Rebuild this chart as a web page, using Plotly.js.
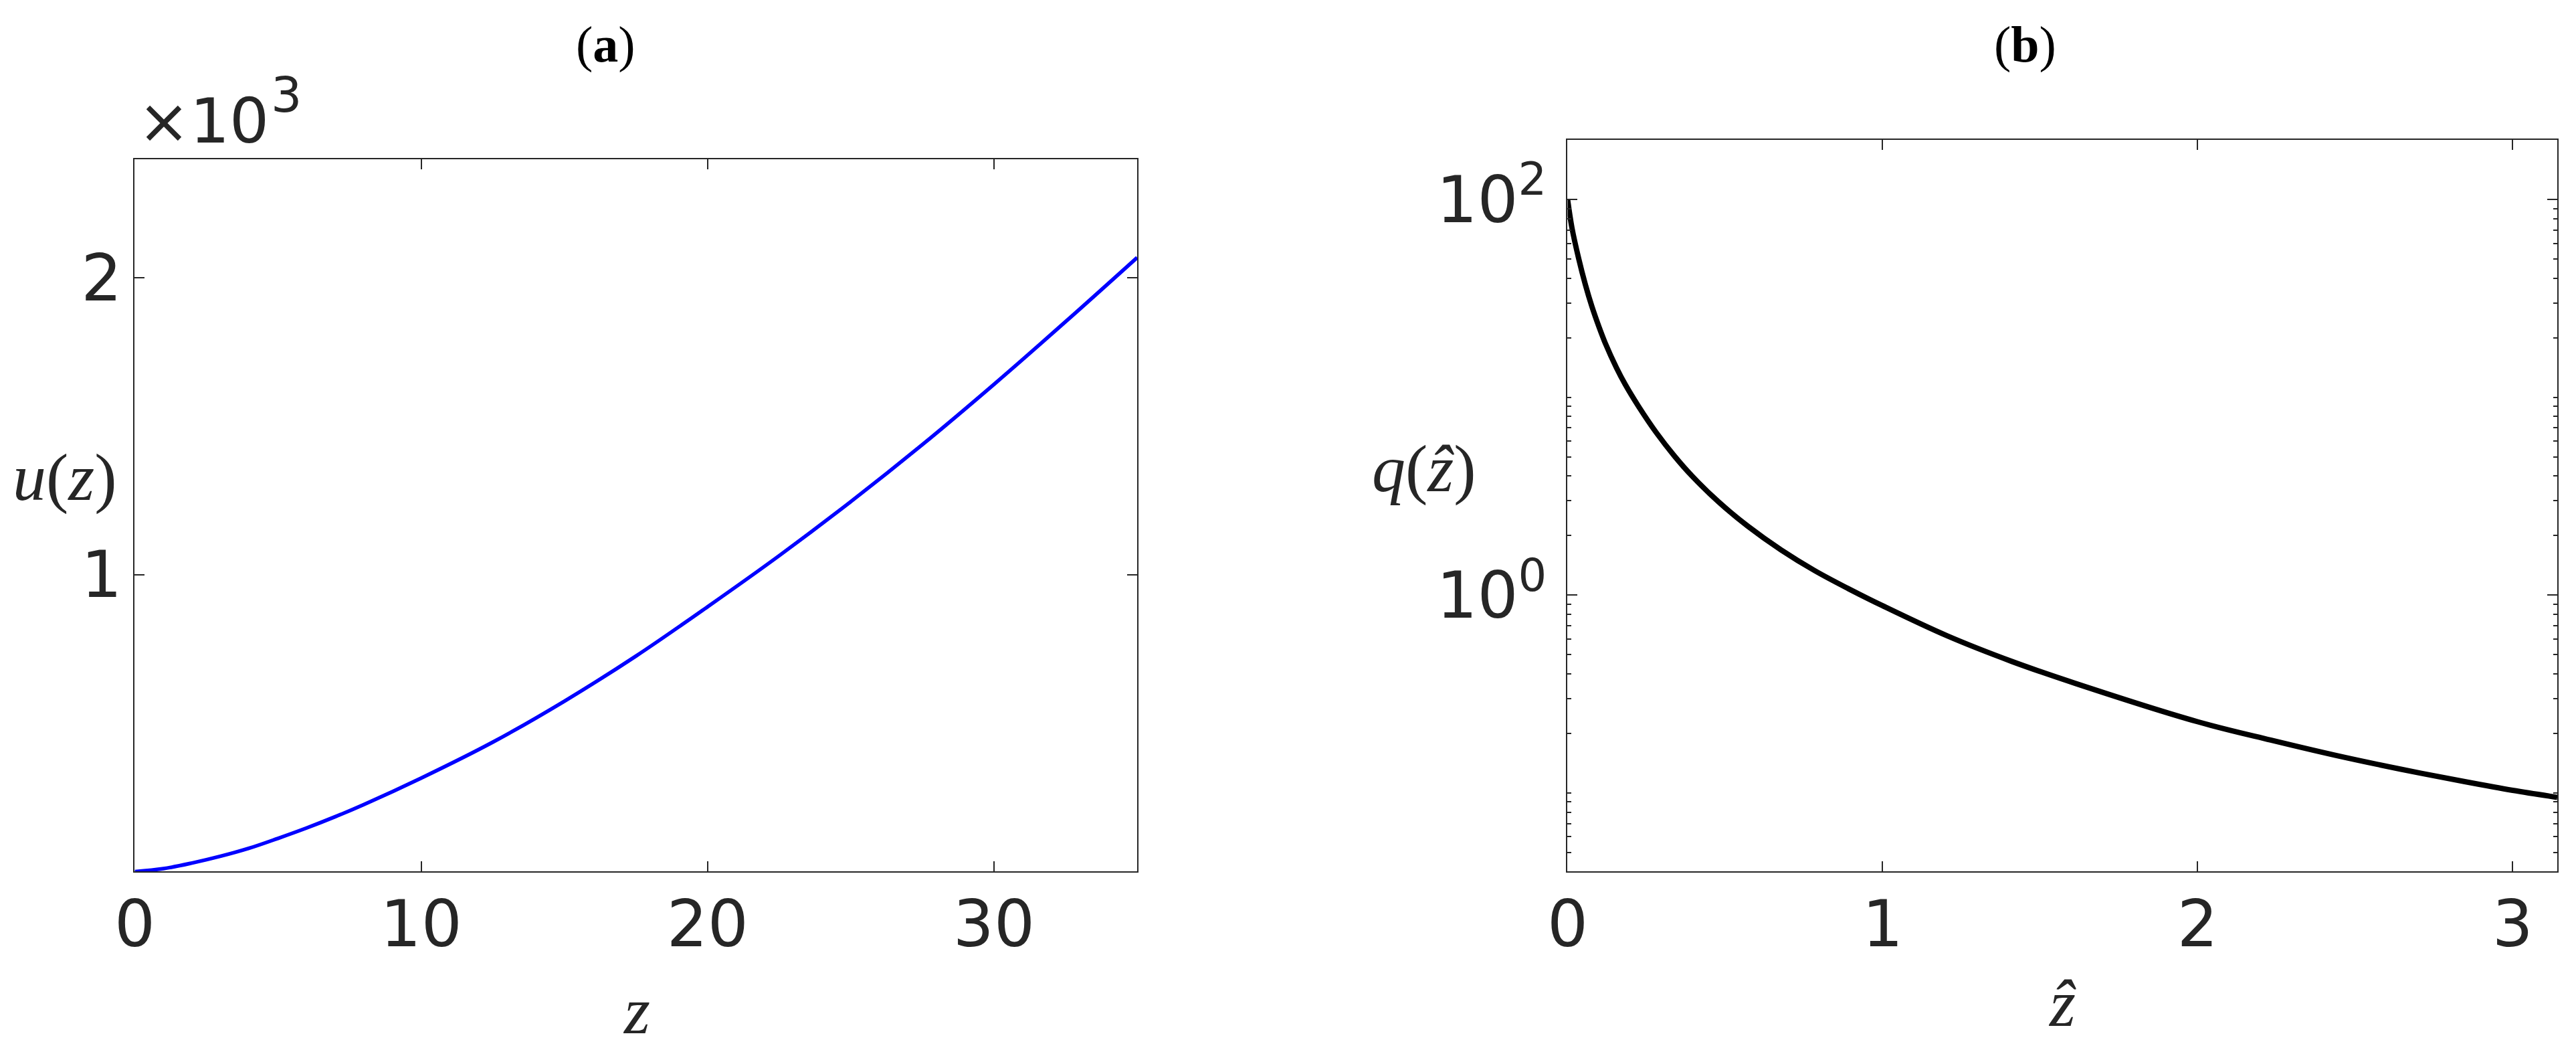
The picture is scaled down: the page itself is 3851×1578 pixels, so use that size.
<!DOCTYPE html>
<html>
<head>
<meta charset="utf-8">
<script src="https://cdn.plot.ly/plotly-3.0.1.min.js"></script>
<style>html,body{margin:0;padding:0;background:#fff;}</style>
</head>
<body>
<div id="chart" style="width:3851px;height:1578px;"></div>
<script>
// Panel (a): u(z)
const zA = [0, 1, 2, 3, 4, 5, 6, 7, 8, 10, 12.5, 15, 17.5, 20, 22.5, 25, 27.5, 30, 32.5, 35];
const uA = [0, 10, 29, 52, 79, 112, 147, 185, 226, 315, 436, 574, 726, 892, 1064, 1246, 1438, 1641, 1852, 2068];
// Panel (b): q(z-hat)
const zB = [0, 0.014, 0.035, 0.056, 0.077, 0.10, 0.12, 0.155, 0.183, 0.226, 0.282, 0.339, 0.395, 0.48, 0.572, 0.678, 0.784, 0.89, 1.0, 1.205, 1.41, 1.616, 2.0, 2.232, 2.437, 2.643, 2.848, 3.0, 3.1416];
const qB = [100, 71.6, 50.4, 37.3, 28.8, 22.6, 18.7, 14.1, 11.6, 8.95, 6.61, 5.05, 4.0, 2.95, 2.23, 1.69, 1.33, 1.08, 0.883, 0.622, 0.462, 0.356, 0.229, 0.185, 0.155, 0.132, 0.114, 0.103, 0.095];

const xTicksA = [0, 10, 20, 30];
const yTicksA = [1000, 2000];
const yTextA = ['1', '2'];
const xTicksB = [0, 1, 2, 3];
const yTicksB = [1, 100];
const yTextB = ['10<sup>0</sup>', '10<sup>2</sup>'];

const axCol = '#262626';
const tickFont = {family: 'DejaVu Sans', size: 96, color: axCol};
const base = {
  ticks: 'inside', ticklen: 15, tickwidth: 2, tickcolor: axCol,
  showline: true, linecolor: axCol, linewidth: 2, mirror: 'ticks',
  showgrid: false, zeroline: false, tickfont: tickFont, fixedrange: true
};

const traces = [
  {x: zA, y: uA, type: 'scatter', mode: 'lines', xaxis: 'x', yaxis: 'y',
   line: {color: '#0000ff', width: 5.5, shape: 'spline'}, hoverinfo: 'skip'},
  {x: zB, y: qB, type: 'scatter', mode: 'lines', xaxis: 'x2', yaxis: 'y2',
   line: {color: '#000000', width: 8, shape: 'spline'}, hoverinfo: 'skip'}
];

const serif = 'Liberation Serif';
const layout = {
  width: 3851, height: 1578,
  margin: {l: 0, r: 0, t: 0, b: 0},
  paper_bgcolor: '#fff', plot_bgcolor: '#fff',
  showlegend: false,
  xaxis: Object.assign({}, base, {domain: [0.05232, 0.44145], range: [0, 35], anchor: 'y',
    tickmode: 'array', tickvals: xTicksA, ticklabelstandoff: -6}),
  yaxis: Object.assign({}, base, {domain: [0.17459, 0.84949], range: [0, 2400], anchor: 'x',
    tickmode: 'array', tickvals: yTicksA, ticktext: yTextA, ticklabelstandoff: -2}),
  xaxis2: Object.assign({}, base, {domain: [0.60854, 0.99273], range: [0, Math.PI], anchor: 'y2',
    tickmode: 'array', tickvals: xTicksB, ticklabelstandoff: -6}),
  yaxis2: Object.assign({}, base, {domain: [0.17459, 0.86755], type: 'log',
    range: [Math.log10(0.04), Math.log10(200)], anchor: 'x2',
    tickmode: 'array', tickvals: yTicksB, ticktext: yTextB, ticklabelstandoff: 10,
    minor: {ticks: 'inside', ticklen: 6, tickwidth: 2, tickcolor: axCol, dtick: 'D1', showgrid: false}}),
  annotations: [
    {text: '(<b>a</b>)', xref: 'paper', yref: 'paper', x: 0.23526, y: 0.95817, xanchor: 'center', yanchor: 'middle',
     showarrow: false, font: {family: serif, size: 76, color: '#000'}},
    {text: '(<b>b</b>)', xref: 'paper', yref: 'paper', x: 0.78603, y: 0.95817, xanchor: 'center', yanchor: 'middle',
     showarrow: false, font: {family: serif, size: 76, color: '#000'}},
    {text: '×10', xref: 'paper', yref: 'paper', x: 204 / 3851, y: 0.8853, xanchor: 'left', yanchor: 'middle',
     showarrow: false, font: {family: 'DejaVu Sans', size: 93, color: axCol}},
    {text: '3', xref: 'paper', yref: 'paper', x: 403 / 3851, y: 0.9106, xanchor: 'left', yanchor: 'middle',
     showarrow: false, font: {family: 'DejaVu Sans', size: 73, color: axCol}},
    {text: '<i>u</i>(<i>z</i>)', xref: 'paper', yref: 'paper', x: 0.02519, y: 0.54753, xanchor: 'center', yanchor: 'middle',
     showarrow: false, font: {family: serif, size: 100, color: axCol}},
    {text: '<i>z</i>', xref: 'paper', yref: 'paper', x: 0.24695, y: 0.04309, xanchor: 'center', yanchor: 'middle',
     showarrow: false, font: {family: serif, size: 100, color: axCol}},
    {text: '<i>q</i>(<i>z\u0302</i>)', xref: 'paper', yref: 'paper', x: 0.55284, y: 0.5564, xanchor: 'center', yanchor: 'middle',
     showarrow: false, font: {family: serif, size: 100, color: axCol}},
    {text: '<i>z\u0302</i>', xref: 'paper', yref: 'paper', x: 0.80057, y: 0.04943, xanchor: 'center', yanchor: 'middle',
     showarrow: false, font: {family: serif, size: 100, color: axCol}}
  ]
};

Plotly.newPlot('chart', traces, layout, {staticPlot: true, displayModeBar: false});
</script>
</body>
</html>
